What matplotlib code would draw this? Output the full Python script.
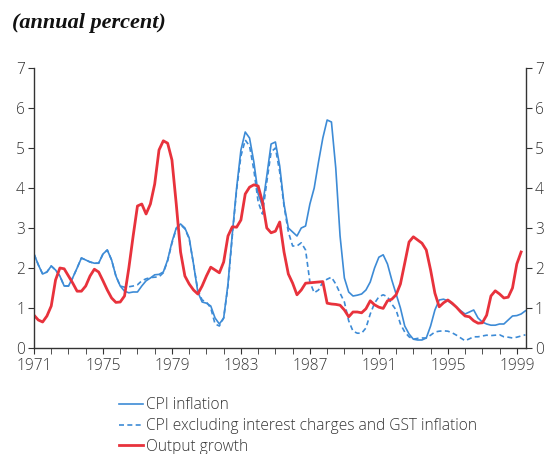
import numpy as np
import matplotlib
matplotlib.use("Agg")
import matplotlib.pyplot as plt
from matplotlib.ticker import MultipleLocator

# quarterly observations, starting 1971 Q1
start_year = 1971.0

cpi = [2.35, 2.08, 1.85, 1.90, 2.05, 1.95, 1.80, 1.55, 1.55, 1.76, 2.00, 2.25,
       2.20, 2.15, 2.12, 2.12, 2.35, 2.45, 2.20, 1.80, 1.55, 1.42, 1.38, 1.40,
       1.40, 1.55, 1.68, 1.75, 1.83, 1.84, 1.90, 2.20, 2.65, 3.00, 3.10, 3.00,
       2.75, 2.10, 1.40, 1.15, 1.12, 1.05, 0.75, 0.60, 0.75, 1.60, 2.85, 4.00,
       4.95, 5.40, 5.25, 4.65, 3.85, 3.55, 4.30, 5.10, 5.15, 4.55, 3.60, 3.00,
       2.90, 2.80, 3.00, 3.05, 3.60, 4.00, 4.65, 5.25, 5.70, 5.65, 4.50, 2.80,
       1.75, 1.40, 1.30, 1.32, 1.35, 1.45, 1.65, 2.00, 2.27, 2.33, 2.10, 1.70,
       1.35, 1.00, 0.55, 0.35, 0.22, 0.20, 0.20, 0.25, 0.55, 0.95, 1.20, 1.22,
       1.18, 1.10, 1.02, 0.93, 0.85, 0.90, 0.95, 0.75, 0.65, 0.60, 0.57, 0.57,
       0.60, 0.60, 0.70, 0.80, 0.81, 0.85, 0.93]

cpi_core = [2.35, 2.08, 1.85, 1.90, 2.05, 1.95, 1.80, 1.55, 1.55, 1.76, 2.00, 2.25,
            2.20, 2.15, 2.12, 2.12, 2.35, 2.45, 2.20, 1.80, 1.55, 1.52, 1.53, 1.55,
            1.58, 1.68, 1.73, 1.76, 1.77, 1.78, 1.88, 2.18, 2.62, 2.98, 3.08, 2.98,
            2.73, 2.10, 1.45, 1.20, 1.15, 1.00, 0.60, 0.55, 0.75, 1.55, 2.80, 3.95,
            4.80, 5.20, 5.05, 4.45, 3.65, 3.35, 4.15, 4.90, 5.00, 4.40, 3.55, 2.90,
            2.55, 2.55, 2.63, 2.45, 1.65, 1.38, 1.45, 1.65, 1.72, 1.77, 1.60, 1.37,
            1.15, 0.68, 0.42, 0.37, 0.37, 0.50, 0.85, 1.12, 1.28, 1.33, 1.28, 1.10,
            0.95, 0.60, 0.40, 0.28, 0.22, 0.24, 0.25, 0.25, 0.32, 0.40, 0.42, 0.43,
            0.42, 0.38, 0.32, 0.25, 0.18, 0.23, 0.28, 0.28, 0.30, 0.32, 0.31, 0.32,
            0.33, 0.28, 0.27, 0.25, 0.27, 0.30, 0.33]

output_growth = [0.82, 0.70, 0.65, 0.80, 1.05, 1.70, 2.00, 1.98, 1.80, 1.62, 1.42, 1.42,
                 1.55, 1.80, 1.97, 1.90, 1.68, 1.45, 1.25, 1.14, 1.15, 1.30, 2.00, 2.80,
                 3.55, 3.60, 3.35, 3.60, 4.10, 4.95, 5.18, 5.12, 4.70, 3.60, 2.40, 1.80,
                 1.60, 1.45, 1.35, 1.55, 1.80, 2.02, 1.95, 1.88, 2.15, 2.80, 3.03, 3.02,
                 3.20, 3.85, 4.02, 4.08, 4.05, 3.65, 3.00, 2.88, 2.92, 3.15, 2.40, 1.85,
                 1.62, 1.33, 1.45, 1.62, 1.63, 1.64, 1.65, 1.66, 1.12, 1.10, 1.09, 1.07,
                 0.95, 0.78, 0.90, 0.90, 0.88, 0.98, 1.18, 1.08, 1.02, 0.99, 1.18, 1.22,
                 1.33, 1.60, 2.12, 2.65, 2.78, 2.70, 2.62, 2.45, 1.95, 1.37, 1.03, 1.13,
                 1.20, 1.12, 1.02, 0.90, 0.80, 0.78, 0.68, 0.62, 0.63, 0.82, 1.30, 1.43,
                 1.35, 1.25, 1.27, 1.50, 2.10, 2.40]

year_ticks = [1971, 1975, 1979, 1983, 1987, 1991, 1995, 1999]

blue = "#3d8bd6"
red = "#e8323c"
grey = "#333333"

plt.rcParams['font.family'] = ['Open Sans', 'DejaVu Sans']
plt.rcParams['font.weight'] = 'light'

t_cpi = start_year + 0.25 * np.arange(len(cpi))
t_core = start_year + 0.25 * np.arange(len(cpi_core))
t_out = start_year + 0.25 * np.arange(len(output_growth))

fig = plt.figure(figsize=(5.44, 4.54), dpi=100)
ax = fig.add_axes([0.0625, 0.2335, 0.904, 0.6167])

l1, = ax.plot(t_cpi, cpi, color=blue, lw=1.2, label="CPI inflation")
l2, = ax.plot(t_core, cpi_core, color=blue, lw=1.2, ls=(0, (3, 2)),
              label="CPI excluding interest charges and GST inflation")
l3, = ax.plot(t_out, output_growth, color=red, lw=2.0, label="Output growth")

ax.set_xlim(1971, 1999.52)
ax.set_ylim(0, 7)
ax.xaxis.set_major_locator(plt.FixedLocator(year_ticks))
ax.xaxis.set_minor_locator(MultipleLocator(1))
ax.yaxis.set_major_locator(MultipleLocator(1))

ax.spines["top"].set_visible(False)
for side in ["left", "right", "bottom"]:
    ax.spines[side].set_color(grey)
    ax.spines[side].set_linewidth(1.0)

ax.tick_params(axis="y", which="major", direction="out", length=4, color=grey,
               labelcolor=grey, labelsize=11.2, left=True, right=True,
               labelleft=True, labelright=True, pad=2.5)
ax.tick_params(axis="x", which="both", direction="out", length=4, color=grey,
               labelcolor=grey, labelsize=11.2, pad=3)

fig.text(0.022, 0.950, "(annual percent)", family="Liberation Serif",
         style="italic", weight="bold", fontsize=16, color="#111111",
         va="center", ha="left")

fig.legend(handles=[l1, l2, l3], loc="upper left",
           bbox_to_anchor=(0.205, 0.142), frameon=False, fontsize=11.2,
           handlelength=1.5, handletextpad=0.2, labelspacing=0.3,
           borderpad=0, labelcolor=grey)

fig.savefig("out.png", dpi=100)
